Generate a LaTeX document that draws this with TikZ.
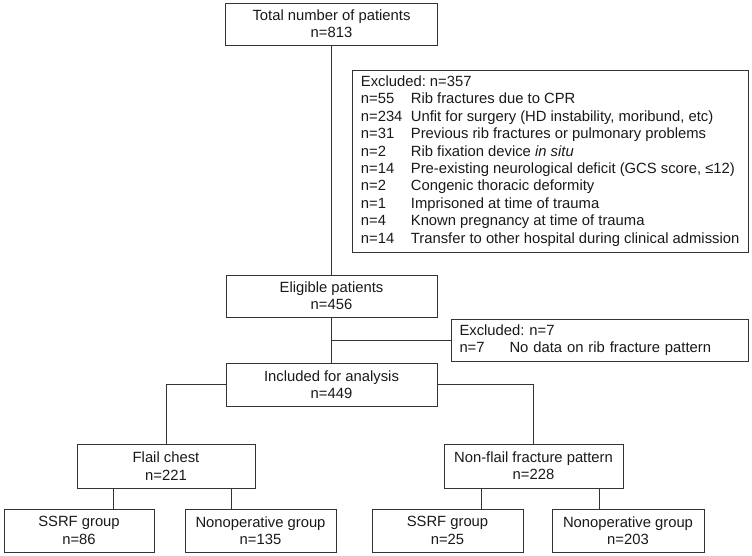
\documentclass[tikz,border=0pt]{standalone}
\usepackage{fontspec}
\setmainfont{Liberation Sans}
\newcommand{\exrow}[2]{\makebox[50pt][l]{#1}#2}
\begin{document}
\begin{tikzpicture}[x=1pt,y=-1pt,
    box/.style={draw=black!80,line width=0.8pt,align=center,inner sep=0pt,
      text=black!90,font=\fontsize{14.8pt}{17.4pt}\selectfont\frenchspacing},
    exbox/.style={box,align=left,inner xsep=8.5pt},
    link/.style={draw=black!80,line width=0.8pt}]
    \useasboundingbox (0,0) rectangle (752,556);
    % main column
    \node[box,minimum width=212pt,minimum height=42pt] (total) at (331.5,24) {Total number of patients\\n=813};
    \node[box,minimum width=211pt,minimum height=42pt] (elig) at (331.5,296) {Eligible patients\\n=456};
    \node[box,minimum width=211pt,minimum height=43pt] (incl) at (331.5,384.5) {Included for analysis\\n=449};
    % exclusions
    \node[exbox,minimum height=182pt,anchor=west] (exclA) at (352,161) {Excluded: n=357\\
        \exrow{n=55}{Rib fractures due to CPR}\\
        \exrow{n=234}{Unfit for surgery (HD instability, moribund, etc)}\\
        \exrow{n=31}{Previous rib fractures or pulmonary problems}\\
        \exrow{n=2}{Rib fixation device \textit{in situ}}\\
        \exrow{n=14}{Pre-existing neurological deficit (GCS score, ≤12)}\\
        \exrow{n=2}{Congenic thoracic deformity}\\
        \exrow{n=1}{Imprisoned at time of trauma}\\
        \exrow{n=4}{Known pregnancy at time of trauma}\\
        \exrow{n=14}{Transfer to other hospital during clinical admission}};
    \node[exbox,text width=280pt,minimum height=42pt] (exclB) at (599.5,340) {Excluded: n=7\\
        \exrow{n=7}{No data on rib fracture pattern}};
    % fracture pattern
    \node[box,minimum width=178pt,minimum height=44pt] (flail) at (166,466) {Flail chest\\n=221};
    \node[box,minimum width=179pt,minimum height=44pt] (nonflail) at (533.5,466) {Non-flail fracture pattern\\n=228};
    % treatment groups
    \node[box,minimum width=150pt,minimum height=43pt] (ssrfA) at (79,530.5) {SSRF group\\n=86};
    \node[box,minimum width=151pt,minimum height=43pt] (nonopA) at (260.5,530.5) {Nonoperative group\\n=135};
    \node[box,minimum width=151pt,minimum height=43pt] (ssrfB) at (447.5,530.5) {SSRF group\\n=25};
    \node[box,minimum width=152pt,minimum height=43pt] (nonopB) at (628,530.5) {Nonoperative group\\n=203};
    % connectors
    \draw[link] (total.south) -- (elig.north);
    \draw[link] (elig.south) -- (incl.north);
    \draw[link] (elig.south |- exclB.west) -- (exclB.west);
    \draw[link] (incl.west) -| (flail.north);
    \draw[link] (incl.east) -| (nonflail.north);
    \draw[link] ([xshift=34pt]ssrfA.north) -- ([xshift=34pt]ssrfA.north |- flail.south);
    \draw[link] ([xshift=-29pt]nonopA.north) -- ([xshift=-29pt]nonopA.north |- flail.south);
    \draw[link] ([xshift=34pt]ssrfB.north) -- ([xshift=34pt]ssrfB.north |- nonflail.south);
    \draw[link] ([xshift=-29pt]nonopB.north) -- ([xshift=-29pt]nonopB.north |- nonflail.south);
\end{tikzpicture}
\end{document}
